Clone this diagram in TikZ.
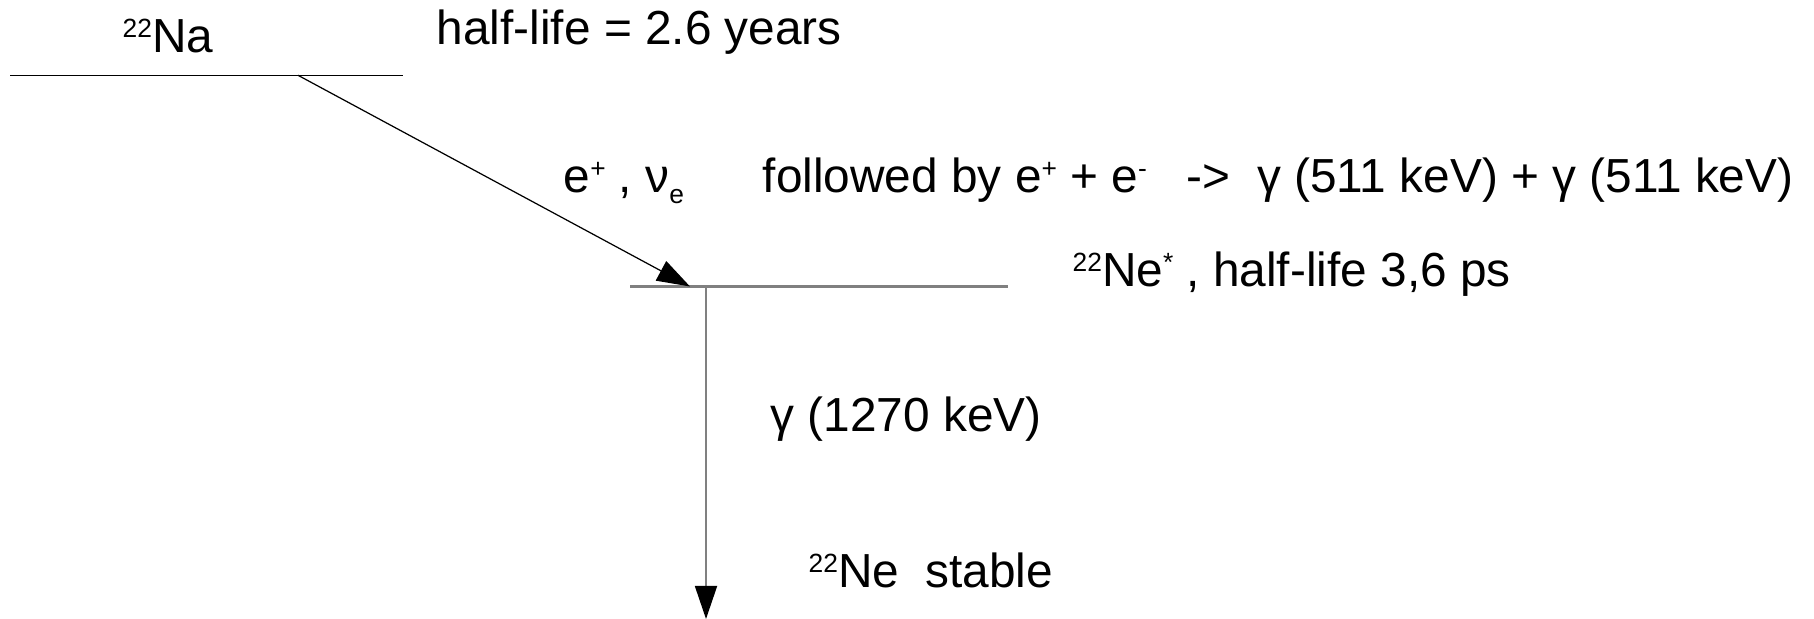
\documentclass[tikz,border=0pt]{standalone}
\usepackage{fontspec}
\setmainfont{Liberation Sans}
\usetikzlibrary{arrows.meta}
\newcommand{\up}[1]{\raisebox{0.33em}{\fontsize{7.5}{8}\selectfont #1}}
\newcommand{\dn}[1]{\raisebox{-0.21em}{\fontsize{7.5}{8}\selectfont #1}}

\begin{document}
\begin{tikzpicture}[x=1cm, y=1cm,
    lbl/.style={anchor=base west, inner sep=0pt, font=\fontsize{13.6}{16}\selectfont},
    tip/.style={-{Triangle[length=0.33cm, width=0.22cm, black]}}]
  \useasboundingbox (0,0) rectangle (18.14,6.19);
  % levels
  \coordinate (na-l) at (0.10,5.437);
  \coordinate (na-r) at (4.03,5.437);
  \coordinate (na-out) at (2.98,5.437);
  \coordinate (ne-l) at (6.30,3.325);
  \coordinate (ne-r) at (10.08,3.325);
  \coordinate (ne-in) at (6.90,3.325);
  \coordinate (ne-out) at (7.06,3.325);
  \coordinate (gs) at (7.06,0.0);
  \draw[black, line width=0.4pt] (na-l) -- (na-r);
  \draw[gray, line width=0.6pt] (ne-l) -- (ne-r);
  % transitions
  \draw[tip, line width=0.35pt] (na-out) -- (ne-in);
  \draw[tip, gray, line width=0.5pt] (ne-out) -- (gs);
  % labels
  \node[lbl] (na) at (1.22,5.66) {\up{22}Na};
  \node[lbl] (na-t) at (4.36,5.74) {half-life = 2.6 years};
  \node[lbl] (beta) at (5.63,4.26) {e\up{+} , ν\dn{e}};
  \node[lbl] (annih) at (7.62,4.26) {followed by e\up{+} + e\up{-}~~~->~~γ (511 keV) + γ (511 keV)};
  \node[lbl] (ne-t) at (10.72,3.32) {\up{22}Ne\up{*} , half-life 3,6 ps};
  \node[lbl] (gam) at (7.70,1.87) {γ (1270 keV)};
  \node[lbl] (ne) at (8.08,0.31) {\up{22}Ne~~stable};
\end{tikzpicture}
\end{document}
